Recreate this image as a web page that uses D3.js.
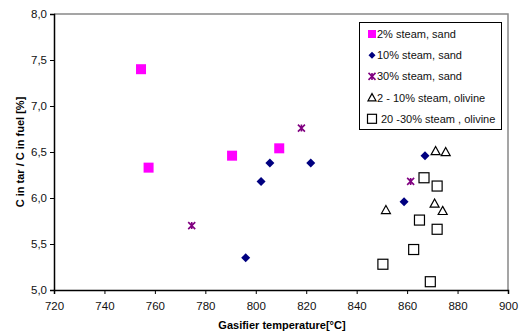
<!DOCTYPE html>
<html>
<head>
<meta charset="utf-8">
<script src="https://cdn.jsdelivr.net/npm/d3@7"></script>
<style>
  body { margin: 0; background: #fff; }
  svg { display: block; font-family: "Liberation Sans", Arial, sans-serif; }
</style>
</head>
<body>
<svg id="chart" width="519" height="331"></svg>
<script>
// data: [temperature, C in tar / C in fuel]
const steam2Sand = [[754.5, 7.40], [757.5, 6.33], [790.6, 6.46], [809.3, 6.54]];
const steam10Sand = [[796.0, 5.35], [802.1, 6.18], [805.6, 6.38], [821.8, 6.38], [867.1, 6.46], [858.8, 5.96]];
const steam30Sand = [[774.6, 5.70], [818.1, 6.76], [861.4, 6.18]];
const steam2to10Olivine = [[871.3, 6.51], [875.3, 6.50], [851.6, 5.87], [870.9, 5.94], [874.1, 5.86]];
const steam20to30Olivine = [[866.7, 6.22], [871.9, 6.13], [864.9, 5.76], [871.9, 5.66], [862.6, 5.44], [850.4, 5.28], [869.2, 5.09]];

const xTicks = [720, 740, 760, 780, 800, 820, 840, 860, 880, 900];
const yTicks = [5.0, 5.5, 6.0, 6.5, 7.0, 7.5, 8.0];
const legendLabels = ['2% steam, sand', '10% steam, sand', '30% steam, sand', '2 - 10% steam, olivine', '20 -30% steam , olivine'];

const svg = d3.select('#chart');
const plot = { left: 54, right: 508, top: 14, bottom: 290 };

const x = d3.scaleLinear().domain([720, 900]).range([plot.left, plot.right]);
const y = d3.scaleLinear().domain([5, 8]).range([plot.bottom, plot.top]);

// grey frame top/right
svg.append('path')
    .attr('d', `M${plot.left},${plot.top}H${plot.right}V${plot.bottom}`)
    .attr('fill', 'none')
    .attr('stroke', '#888')
    .attr('stroke-width', 1.5);

const fmt = d => d3.format('.1f')(d).replace('.', ',');

const xAxis = svg.append('g')
    .attr('transform', `translate(0,${plot.bottom})`)
    .call(d3.axisBottom(x).tickValues(xTicks).tickSize(4).tickPadding(8).tickFormat(d3.format('d')));
const yAxis = svg.append('g')
    .attr('transform', `translate(${plot.left},0)`)
    .call(d3.axisLeft(y).tickValues(yTicks).tickSize(4).tickPadding(3).tickFormat(fmt));

[xAxis, yAxis].forEach(ax => {
    ax.select('.domain').attr('stroke', '#000').attr('stroke-width', 1.5);
    ax.selectAll('.tick line').attr('stroke', '#000');
    ax.selectAll('.tick text').attr('font-size', 11.5).attr('fill', '#111')
        .attr('font-family', '"Liberation Sans", Arial, sans-serif');
});

svg.append('text')
    .attr('x', 282).attr('y', 329)
    .attr('text-anchor', 'middle')
    .attr('font-size', 11).attr('font-weight', 'bold')
    .text('Gasifier temperature[°C]');

svg.append('text')
    .attr('transform', 'translate(24,152) rotate(-90)')
    .attr('text-anchor', 'middle')
    .attr('font-size', 11).attr('font-weight', 'bold')
    .text('C in tar / C in fuel [%]');

// marker drawing
function marker(g, kind, size) {
    const r = size / 2;
    if (kind === 'pink') {
        g.append('rect').attr('x', -r).attr('y', -r)
            .attr('width', size).attr('height', size).attr('fill', '#ff00ff');
    } else if (kind === 'diamond') {
        g.append('path').attr('d', `M0,${-r}L${r},0L0,${r}L${-r},0Z`)
            .attr('fill', '#000080');
    } else if (kind === 'star') {
        g.append('path')
            .attr('d', `M${-r},${-r}L${r},${r}M${-r},${r}L${r},${-r}M0,${-r}V${r}`)
            .attr('stroke', '#800080').attr('stroke-width', 1.6);
    } else if (kind === 'tri') {
        g.append('path')
            .attr('d', `M0,${-r}L${r},${r * 0.8}L${-r},${r * 0.8}Z`)
            .attr('fill', 'none').attr('stroke', '#000').attr('stroke-width', 1.2);
    } else if (kind === 'box') {
        g.append('rect').attr('x', -r).attr('y', -r)
            .attr('width', size).attr('height', size)
            .attr('fill', 'none').attr('stroke', '#000').attr('stroke-width', 1.2);
    }
}

const series = [
    { data: steam2Sand, kind: 'pink', size: 10 },
    { data: steam10Sand, kind: 'diamond', size: 9 },
    { data: steam30Sand, kind: 'star', size: 7 },
    { data: steam2to10Olivine, kind: 'tri', size: 9 },
    { data: steam20to30Olivine, kind: 'box', size: 10 }
];

series.forEach(s => {
    svg.append('g').selectAll('g')
        .data(s.data)
        .enter().append('g')
        .attr('transform', d => `translate(${x(d[0])},${y(d[1])})`)
        .each(function () { marker(d3.select(this), s.kind, s.size); });
});

// legend
const legend = svg.append('g');
legend.append('rect')
    .attr('x', 359.5).attr('y', 22.5).attr('width', 142).attr('height', 107)
    .attr('fill', '#fff').attr('stroke', '#000').attr('stroke-width', 1);

const legendSizes = [8, 7, 7, 8, 9];
legendLabels.forEach((label, i) => {
    const ly = 34 + i * 21.2;
    const g = legend.append('g').attr('transform', `translate(372,${ly})`);
    marker(g, series[i].kind, legendSizes[i]);
    legend.append('text')
        .attr('x', i === 4 ? 381 : 377).attr('y', ly + 4)
        .attr('font-size', 11).attr('fill', '#111')
        .text(label);
});
</script>
</body>
</html>
